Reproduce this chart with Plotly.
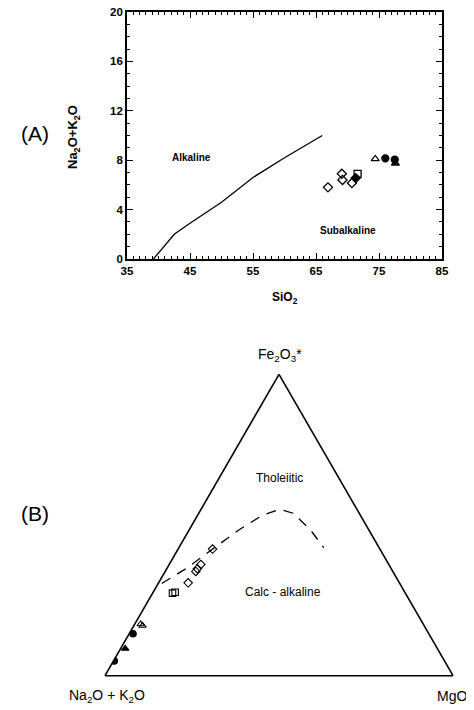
import plotly.graph_objects as go

# ---------------- Data: (A) TAS diagram ----------------
boundary_sio2 = [39.2, 42.5, 45.0, 50.0, 55.0, 60.0, 66.0]
boundary_alk = [0.0, 2.0, 2.9, 4.6, 6.6, 8.2, 10.0]

od_sio2 = [66.9, 69.1, 69.2, 70.7]
od_alk = [5.8, 6.9, 6.4, 6.15]
osq_sio2 = [71.6]
osq_alk = [6.9]
fd_sio2 = [71.3]
fd_alk = [6.55]
otr_sio2 = [74.4]
otr_alk = [8.1]
fc_sio2 = [76.0, 77.5]
fc_alk = [8.15, 8.05]
ftr_sio2 = [77.6]
ftr_alk = [7.75]

x_ticks = [35, 45, 55, 65, 75, 85]
y_ticks = [0, 4, 8, 12, 16, 20]

# ---------------- Data: (B) AFM diagram (F = Fe2O3*, A = Na2O+K2O, M = MgO, %) ----------------
afm_line_F = [30.6, 35.5, 42.0, 48.5, 53.3, 55.2, 53.9, 48.5, 42.5]
afm_line_M = [1.0, 5.5, 9.9, 14.4, 18.7, 22.6, 27.1, 34.7, 41.6]

afm_od_F = [42.0, 36.9, 35.5, 34.6, 30.8]
afm_od_M = [9.9, 9.1, 8.8, 8.8, 8.5]
afm_osq_F = [27.4, 27.7]
afm_osq_M = [5.7, 6.3]
afm_otr_F = [17.1, 16.6]
afm_otr_M = [1.7, 2.5]
afm_fc_F = [13.9, 4.9]
afm_fc_M = [1.1, 0.2]
afm_ftr_F = [9.0]
afm_ftr_M = [1.3]


def rest(F, M):
    return [100 - f - m for f, m in zip(F, M)]


fig = go.Figure()

# TAS boundary line
fig.add_trace(go.Scatter(x=boundary_sio2, y=boundary_alk, mode="lines",
                         line=dict(color="black", width=1.3), showlegend=False,
                         xaxis="x", yaxis="y"))

ms = 7
open_line = dict(color="black", width=1.3)
tas_series = [
    (od_sio2, od_alk, "diamond-open"),
    (osq_sio2, osq_alk, "square-open"),
    (fd_sio2, fd_alk, "diamond"),
    (otr_sio2, otr_alk, "triangle-up-open"),
    (fc_sio2, fc_alk, "circle"),
    (ftr_sio2, ftr_alk, "triangle-up"),
]
for xs, ys, sym in tas_series:
    fig.add_trace(go.Scatter(x=xs, y=ys, mode="markers",
                             marker=dict(symbol=sym, size=ms, color="black", line=open_line),
                             showlegend=False, xaxis="x", yaxis="y"))

# AFM boundary (dashed)
fig.add_trace(go.Scatterternary(a=afm_line_F, b=rest(afm_line_F, afm_line_M), c=afm_line_M,
                                mode="lines", line=dict(color="black", width=1.3, dash="10px,8px"),
                                showlegend=False, subplot="ternary"))

afm_series = [
    (afm_od_F, afm_od_M, "diamond-open"),
    (afm_osq_F, afm_osq_M, "square-open"),
    (afm_otr_F, afm_otr_M, "triangle-up-open"),
    (afm_fc_F, afm_fc_M, "circle"),
    (afm_ftr_F, afm_ftr_M, "triangle-up"),
]
for F, M, sym in afm_series:
    fig.add_trace(go.Scatterternary(a=F, b=rest(F, M), c=M, mode="markers",
                                    marker=dict(symbol=sym, size=6.5, color="black",
                                                line=dict(color="black", width=1.1)),
                                    showlegend=False, subplot="ternary"))

# The page body has an 8px default margin: size the figure so it fills the window exactly
OFF = 8
W, H = 474 - OFF, 710 - OFF


def fx(px):
    return (px - OFF) / W


def fy(py):
    return 1 - (py - OFF) / H


tick_font = dict(family="Liberation Sans, Arial", size=11.5, color="black", weight="bold")

tern_axis = dict(showgrid=False, showticklabels=False, ticks="", linewidth=1.6,
                 linecolor="black", title=dict(text=""), min=0)

fig.update_layout(
    width=W, height=H, autosize=False,
    margin=dict(l=0, r=0, t=0, b=0, pad=0),
    paper_bgcolor="white", plot_bgcolor="white",
    showlegend=False,
    xaxis=dict(domain=[fx(127), fx(442)], range=[35, 85], tickvals=x_ticks,
               showline=True, linecolor="black", linewidth=1.6, mirror="allticks",
               ticks="inside", ticklen=6, tickwidth=1.2, tickcolor="black",
               minor=dict(dtick=1, ticks="inside", ticklen=3, tickwidth=1, tickcolor="black"),
               showgrid=False, zeroline=False, tickfont=tick_font, anchor="y",
               automargin=False, ticklabeloverflow="allow"),
    yaxis=dict(domain=[fy(259), fy(12)], range=[0, 20], tickvals=y_ticks,
               showline=True, linecolor="black", linewidth=1.6, mirror="allticks",
               ticks="inside", ticklen=6, tickwidth=1.2, tickcolor="black",
               minor=dict(dtick=1, ticks="inside", ticklen=3, tickwidth=1, tickcolor="black"),
               showgrid=False, zeroline=False, tickfont=tick_font, anchor="x",
               automargin=False, ticklabeloverflow="allow"),
    ternary=dict(domain=dict(x=[fx(105), fx(453)], y=[fy(676), fy(374)]),
                 sum=100, bgcolor="white",
                 aaxis=tern_axis, baxis=tern_axis, caxis=tern_axis),
)

bold_small = dict(family="Liberation Sans, Arial", size=10, color="black", weight="bold")
reg = dict(family="Liberation Sans, Arial", size=14, color="black")


def ann(text, x, y, font, xref="paper", yref="paper", angle=0, xanchor="center"):
    fig.add_annotation(text=text, x=x, y=y, xref=xref, yref=yref, showarrow=False,
                       font=font, textangle=angle, xanchor=xanchor, yanchor="middle")


# (A) labels
ann("Alkaline", 45.3, 8.2, bold_small, xref="x", yref="y")
ann("Subalkaline", 70.0, 2.3, bold_small, xref="x", yref="y")
ann("Na<sub>2</sub>O+K<sub>2</sub>O", fx(73), fy(137),
    dict(family="Liberation Sans, Arial", size=13, color="black", weight="bold"), angle=-90)
ann("SiO<sub>2</sub>", fx(285), fy(298),
    dict(family="Liberation Sans, Arial", size=12, color="black", weight="bold"))
ann("(A)", fx(35), fy(133), dict(family="Liberation Sans, Arial", size=21, color="black"))

# (B) labels
ann("(B)", fx(35), fy(514), dict(family="Liberation Sans, Arial", size=21, color="black"))
ann("Fe<sub>2</sub>O<sub>3</sub>*", fx(280), fy(355), reg)
ann("Na<sub>2</sub>O + K<sub>2</sub>O", fx(107), fy(696), reg)
ann("MgO", fx(452), fy(696), reg)
ann("Tholeiitic", fx(279), fy(478), dict(family="Liberation Sans, Arial", size=12, color="black"))
ann("Calc - alkaline", fx(283), fy(592), dict(family="Liberation Sans, Arial", size=12, color="black"))

fig.write_html("out.html")
